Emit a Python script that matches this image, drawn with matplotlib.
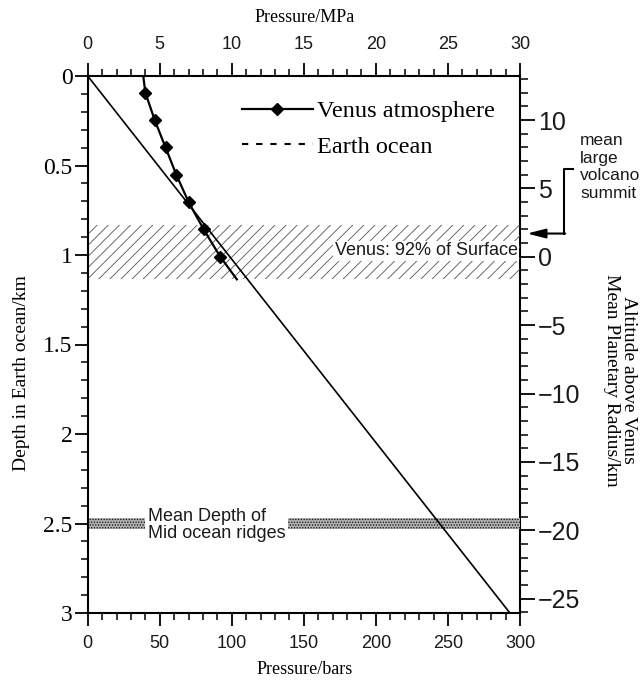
import matplotlib
matplotlib.use("Agg")
import matplotlib.pyplot as plt
from matplotlib.lines import Line2D
from matplotlib.ticker import MultipleLocator

# ---- data -------------------------------------------------------------
# Venus atmosphere: pressure (bar) against altitude (km); the first and
# last entries only extend the line to the band edges, markers sit on the rest
venus_alt_km = [13.2, 12, 10, 8, 6, 4, 2, 0, -1.65]
venus_p_bar = [38.6, 40.0, 46.5, 54.0, 61.5, 70.0, 80.5, 92.0, 103.5]

# Earth ocean: hydrostatic pressure (bar) against depth (km)
ocean_depth_km = [0.0, 3.0]
ocean_p_bar = [0.0, 293.0]

# hypsometric band holding 92% of the Venus surface (altitude, km)
venus_band_alt = [-1.6, 2.3]
# mean depth of mid-ocean ridges (depth, km)
ridge_band_depth = [2.47, 2.53]
# mean large volcano summit (altitude, km) and bracket top
volcano_alt = 1.7
volcano_bracket_top = 6.4

bar_ticks = [0, 50, 100, 150, 200, 250, 300]
mpa_ticks = [0, 5, 10, 15, 20, 25, 30]
depth_ticks = [0, 0.5, 1, 1.5, 2, 2.5, 3]
depth_ticklabels = ["0", "0.5", "1", "1.5", "2", "2.5", "3"]
alt_ticks = [10, 5, 0, -5, -10, -15, -20, -25]

# ocean depth <-> Venus altitude scale
D0 = 1.01     # depth where Venus altitude is zero
K = 13.09     # km of Venus altitude per km of ocean depth


def depth_to_alt(d):
    return (D0 - d) * K


def alt_to_depth(a):
    return D0 - a / K


SERIF = "Liberation Serif"
SANS = "Liberation Sans"
INK = "#1a1a1a"
plt.rcParams["hatch.linewidth"] = 0.6

W, H = 643, 681
fig = plt.figure(figsize=(W / 100, H / 100), dpi=100)
L, R, T, B = 87.7, 520.0, 76.0, 613.0
ax = fig.add_axes([L / W, 1 - B / H, (R - L) / W, (B - T) / H])

ax.set_xlim(0, 300)
ax.set_ylim(3, 0)

# bands
ax.axhspan(alt_to_depth(venus_band_alt[1]), alt_to_depth(venus_band_alt[0]),
           facecolor="none", edgecolor="#555555", hatch="///", lw=0, zorder=1)
ax.axhspan(ridge_band_depth[0], ridge_band_depth[1],
           facecolor="#b0b0b0", edgecolor="#111111", hatch="......", lw=0,
           zorder=1)

# curves
ax.plot(ocean_p_bar, ocean_depth_km, color="black", lw=1.2, zorder=3)
venus_depth = [alt_to_depth(a) for a in venus_alt_km]
ax.plot(venus_p_bar, venus_depth, color="black", lw=1.6, marker="D", ms=6,
        markevery=list(range(1, len(venus_p_bar) - 1)), zorder=4, clip_on=False)

# axes styling
for s in ax.spines.values():
    s.set_linewidth(1.5)
ax.spines["top"].set_visible(False)
ax.spines["right"].set_visible(False)

ax.set_xticks(bar_ticks)
ax.xaxis.set_minor_locator(MultipleLocator(10))
ax.set_yticks(depth_ticks)
ax.set_yticklabels(depth_ticklabels)
ax.yaxis.set_minor_locator(MultipleLocator(0.1))
ax.tick_params(axis="x", which="major", direction="out", length=9.5, width=1.3,
               pad=6, labelsize=13, labelcolor=INK)
ax.tick_params(axis="x", which="minor", direction="out", length=5, width=1.1)
ax.tick_params(axis="y", which="major", direction="out", length=9.5, width=1.3,
               pad=1.5, labelsize=17)
ax.tick_params(axis="y", which="minor", direction="out", length=4.7, width=1.1)
for lab in ax.get_xticklabels():
    lab.set_fontfamily(SANS)
for lab in ax.get_yticklabels():
    lab.set_fontfamily(SERIF)

# top axis in MPa
top = ax.secondary_xaxis("top", functions=(lambda b: b / 10.0, lambda m: m * 10.0))
top.set_xticks(mpa_ticks)
top.xaxis.set_minor_locator(MultipleLocator(1))
top.tick_params(which="major", direction="out", length=9.5, width=1.3, pad=7,
                labelsize=13, labelcolor=INK)
top.tick_params(which="minor", direction="out", length=5, width=1.1)
top.spines["top"].set_linewidth(1.5)
for lab in top.get_xticklabels():
    lab.set_fontfamily(SANS)

# right axis in Venus altitude
right = ax.secondary_yaxis("right", functions=(depth_to_alt, alt_to_depth))
right.set_yticks(alt_ticks)
right.yaxis.set_minor_locator(MultipleLocator(1))
right.tick_params(which="major", direction="out", length=11, width=1.3, pad=2,
                  labelsize=18, labelcolor=INK)
right.tick_params(which="minor", direction="out", length=6, width=1.1)
right.spines["right"].set_linewidth(1.5)
for lab in right.get_yticklabels():
    lab.set_fontfamily(SANS)

# axis titles
fig.text(305 / W, 1 - 17 / H, "Pressure/MPa", family=SERIF, size=13,
         ha="center", va="center")
fig.text(305 / W, 1 - 670 / H, "Pressure/bars", family=SERIF, size=13,
         ha="center", va="center")
fig.text(22 / W, 1 - 373 / H, "Depth in Earth ocean/km", family=SERIF,
         size=14, rotation=90, ha="center", va="center")
fig.text(620 / W, 1 - 380 / H, "Altitude above Venus\nMean Planetary Radius/km",
         family=SERIF, size=14, rotation=270, ha="center", va="center",
         multialignment="center", linespacing=1.0)

# legend
handles = [Line2D([], [], color="black", lw=1.6, marker="D", ms=6),
           Line2D([], [], color="black", lw=1.5, ls=(0, (3.0, 3.8)))]
ax.legend(handles, ["Venus atmosphere", "Earth ocean"], loc="upper left",
          bbox_to_anchor=(0.357, 0.955), frameon=False, numpoints=1,
          prop={"family": SERIF, "size": 17.5}, handlelength=2.9,
          handletextpad=0.2, labelspacing=0.55, borderpad=0, borderaxespad=0)

# band annotations
yx = ax.get_yaxis_transform()
ax.text(0.995, alt_to_depth(0.45), "Venus: 92% of Surface", transform=yx,
        family=SANS, size=13, color=INK, ha="right", va="center", zorder=5,
        bbox=dict(boxstyle="square,pad=0.08", fc="white", ec="none"))
ax.text(41.8, 2.508, "Mean Depth of\nMid ocean ridges", family=SANS, size=13,
        color=INK, ha="left", va="center", linespacing=1.05, zorder=5,
        bbox=dict(boxstyle="square,pad=0.15", fc="white", ec="none"))

# volcano summit marker outside the right axis
xb = (564.3 - L) / (R - L)
xt = (573.0 - L) / (R - L)
xa = (527.0 - L) / (R - L)
ax.plot([xt, xb, xb], [alt_to_depth(volcano_bracket_top),
                       alt_to_depth(volcano_bracket_top),
                       alt_to_depth(volcano_alt)],
        transform=yx, color="black", lw=1.5, clip_on=False)
ax.annotate("", xy=(xa, alt_to_depth(volcano_alt)), xycoords=yx,
            xytext=(xb + 0.002, alt_to_depth(volcano_alt)), textcoords=yx,
            arrowprops=dict(arrowstyle="-|>,head_length=1.1,head_width=0.28",
                            color="black", lw=1.5, shrinkA=0, shrinkB=0))
fig.text(580 / W, 1 - 167 / H, "mean\nlarge\nvolcano\nsummit", family=SANS,
         size=12.5, color=INK, ha="left", va="center", linespacing=1.2)

fig.savefig("out.png", dpi=100)
